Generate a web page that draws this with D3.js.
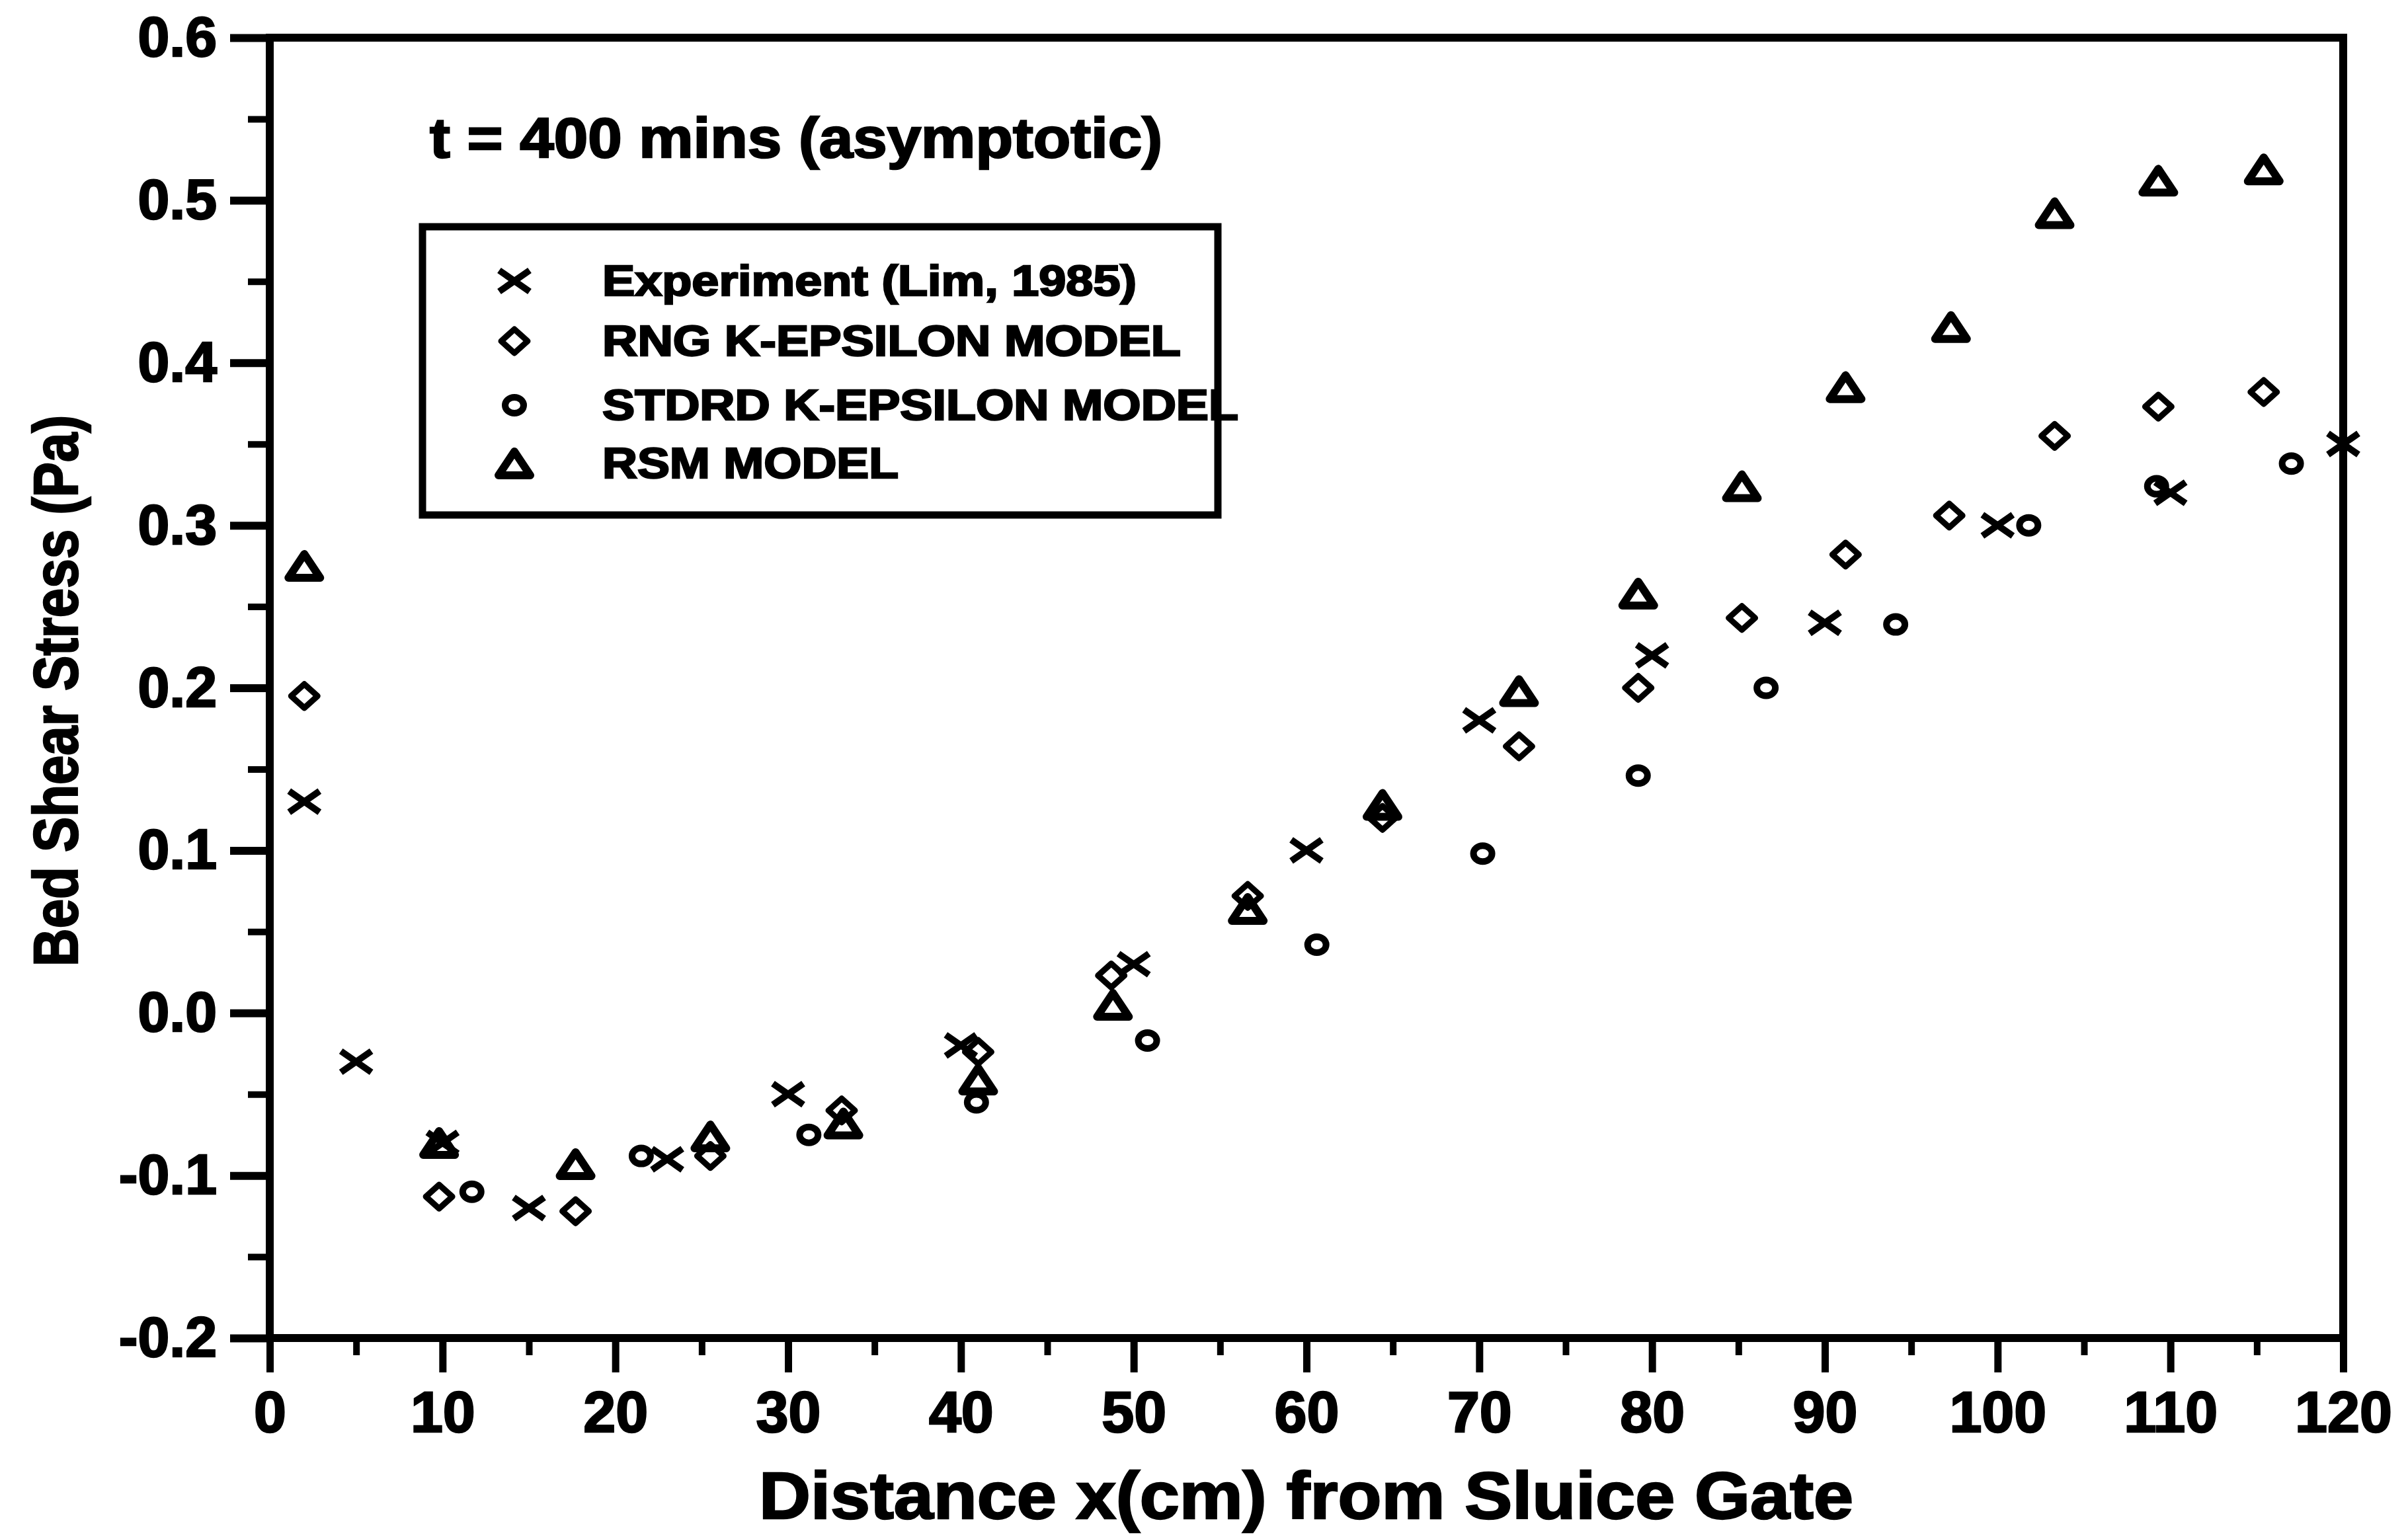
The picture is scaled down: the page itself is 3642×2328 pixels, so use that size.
<!DOCTYPE html>
<html>
<head>
<meta charset="utf-8">
<script src="https://cdn.jsdelivr.net/npm/d3@7"></script>
<style>
  html, body { margin: 0; padding: 0; background: #fff; }
  svg { display: block; }
  text { font-family: "Liberation Sans", Arial, Helvetica, sans-serif; font-weight: bold; fill: #000; stroke: #000; stroke-width: 2.5px; }
</style>
</head>
<body>
<script>
// ---------------- DATA ----------------
const xTickValues = [0, 10, 20, 30, 40, 50, 60, 70, 80, 90, 100, 110, 120];
const xTickLabels = ["0", "10", "20", "30", "40", "50", "60", "70", "80", "90", "100", "110", "120"];
const yTickValues = [-0.2, -0.1, 0.0, 0.1, 0.2, 0.3, 0.4, 0.5, 0.6];
const yTickLabels = ["-0.2", "-0.1", "0.0", "0.1", "0.2", "0.3", "0.4", "0.5", "0.6"];
const xMinorTicks = [5, 15, 25, 35, 45, 55, 65, 75, 85, 95, 105, 115];
const yMinorTicks = [-0.15, -0.05, 0.05, 0.15, 0.25, 0.35, 0.45, 0.55];

const expX = [2, 5, 10, 15, 23, 30, 40, 50, 60, 70, 80, 90, 100, 110, 120];
const expY = [0.13, -0.03, -0.08, -0.12, -0.09, -0.05, -0.02, 0.03, 0.10, 0.18, 0.22, 0.24, 0.30, 0.32, 0.35];

const rngX = [2, 9.8, 17.7, 25.5, 33.1, 41, 48.7, 56.6, 64.4, 72.3, 79.2, 85.2, 91.2, 97.2, 103.3, 109.3, 115.4];
const rngY = [0.195, -0.113, -0.122, -0.088, -0.06, -0.024, 0.023, 0.072, 0.12, 0.164, 0.2, 0.243, 0.282, 0.306, 0.355, 0.373, 0.382];

const stdX = [11.7, 21.5, 31.2, 40.9, 50.8, 60.6, 70.2, 79.2, 86.6, 94.1, 101.8, 109.2, 117];
const stdY = [-0.11, -0.088, -0.075, -0.055, -0.017, 0.042, 0.098, 0.146, 0.2, 0.239, 0.3, 0.324, 0.338];

const rsmX = [2, 9.8, 17.7, 25.5, 33.2, 41, 48.8, 56.6, 64.4, 72.3, 79.2, 85.2, 91.2, 97.3, 103.3, 109.3, 115.4];
const rsmY = [0.275, -0.08, -0.093, -0.076, -0.068, -0.041, 0.005, 0.064, 0.128, 0.198, 0.258, 0.324, 0.385, 0.422, 0.492, 0.512, 0.519];

const seriesNames = ["Experiment (Lim, 1985)", "RNG K-EPSILON MODEL", "STDRD K-EPSILON MODEL", "RSM MODEL"];
const seriesMarkers = ["x", "diamond", "circle", "triangle"];
const annotation = "t = 400 mins (asymptotic)";
const xTitle = "Distance x(cm) from Sluice Gate";
const yTitle = "Bed Shear Stress (Pa)";

// ---------------- LAYOUT ----------------
const W = 3642, H = 2328;
const plot = { left: 408, right: 3544, top: 57, bottom: 2024 };

const svg = d3.select("body").append("svg")
  .attr("width", W).attr("height", H)
  .attr("viewBox", `0 0 ${W} ${H}`);
svg.append("rect").attr("width", W).attr("height", H).attr("fill", "#fff");

const x = d3.scaleLinear().domain([0, 120]).range([plot.left, plot.right]);
const y = d3.scaleLinear().domain([-0.2, 0.6]).range([plot.bottom, plot.top]);

// axes: minor ticks
const yMinor = d3.axisLeft(y).tickValues(yMinorTicks).tickSize(33).tickFormat("");
const xMinor = d3.axisBottom(x).tickValues(xMinorTicks).tickSize(26).tickFormat("");
svg.append("g").attr("transform", `translate(${plot.left},0)`).call(yMinor)
  .call(g => g.select(".domain").remove())
  .call(g => g.selectAll("line").attr("stroke", "#000").attr("stroke-width", 10));
svg.append("g").attr("transform", `translate(0,${plot.bottom})`).call(xMinor)
  .call(g => g.select(".domain").remove())
  .call(g => g.selectAll("line").attr("stroke", "#000").attr("stroke-width", 10));

// major ticks + labels
const yAxis = d3.axisLeft(y).tickValues(yTickValues).tickSize(60).tickPadding(20)
  .tickFormat((d, i) => yTickLabels[i]);
const xAxis = d3.axisBottom(x).tickValues(xTickValues).tickSize(52).tickPadding(28)
  .tickFormat((d, i) => xTickLabels[i]);

svg.append("g").attr("transform", `translate(${plot.left},0)`).call(yAxis)
  .call(g => g.select(".domain").remove())
  .call(g => g.selectAll("line").attr("stroke", "#000").attr("stroke-width", 12))
  .call(g => g.selectAll("text").attr("font-size", 86).attr("font-family", null).attr("fill", "#000"));

svg.append("g").attr("transform", `translate(0,${plot.bottom})`).call(xAxis)
  .call(g => g.select(".domain").remove())
  .call(g => g.selectAll("line").attr("stroke", "#000").attr("stroke-width", 11))
  .call(g => g.selectAll("text").attr("font-size", 88).attr("font-family", null).attr("fill", "#000"));

// frame
svg.append("rect")
  .attr("x", plot.left).attr("y", plot.top)
  .attr("width", plot.right - plot.left).attr("height", plot.bottom - plot.top)
  .attr("fill", "none").attr("stroke", "#000").attr("stroke-width", 12);

// ---------------- MARKERS ----------------
function markerPath(type) {
  const p = d3.path();
  if (type === "x") {
    const hw = 23, hh = 16;
    p.moveTo(-hw, -hh); p.lineTo(hw, hh);
    p.moveTo(hw, -hh); p.lineTo(-hw, hh);
  } else if (type === "diamond") {
    const hw = 20, hh = 18;
    p.moveTo(0, -hh); p.lineTo(hw, 0); p.lineTo(0, hh); p.lineTo(-hw, 0); p.closePath();
  } else if (type === "triangle") {
    const hw = 24, hh = 18;
    p.moveTo(0, -hh); p.lineTo(hw, hh); p.lineTo(-hw, hh); p.closePath();
  }
  return p.toString();
}
function drawMarker(g, type) {
  if (type === "circle") {
    g.append("ellipse").attr("rx", 14).attr("ry", 12)
      .attr("fill", "none").attr("stroke", "#000").attr("stroke-width", 10);
  } else {
    g.append("path").attr("d", markerPath(type))
      .attr("fill", "none").attr("stroke", "#000")
      .attr("stroke-width", type === "triangle" ? 12 : (type === "x" ? 10 : 9))
      .attr("stroke-linejoin", "round").attr("stroke-linecap", "butt");
  }
}

const series = [
  { xs: expX, ys: expY, marker: seriesMarkers[0] },
  { xs: rngX, ys: rngY, marker: seriesMarkers[1] },
  { xs: stdX, ys: stdY, marker: seriesMarkers[2] },
  { xs: rsmX, ys: rsmY, marker: seriesMarkers[3] }
];

series.forEach(s => {
  const pts = s.xs.map((v, i) => [v, s.ys[i]]);
  svg.append("g").selectAll("g").data(pts).join("g")
    .attr("transform", d => `translate(${x(d[0])},${y(d[1])})`)
    .each(function () { drawMarker(d3.select(this), s.marker); });
});

// ---------------- ANNOTATION ----------------
svg.append("text").attr("x", 650).attr("y", 238)
  .attr("font-size", 86).attr("textLength", 1108).attr("lengthAdjust", "spacingAndGlyphs")
  .text(annotation);

// ---------------- LEGEND ----------------
const legend = svg.append("g");
legend.append("rect").attr("x", 639).attr("y", 343).attr("width", 1203).attr("height", 436)
  .attr("fill", "none").attr("stroke", "#000").attr("stroke-width", 11);
const legendRows = [425, 516, 613, 701];
const legendWidths = [808, 875, 962, 448];
seriesNames.forEach((name, i) => {
  const g = legend.append("g").attr("transform", `translate(778,${legendRows[i]})`);
  drawMarker(g, seriesMarkers[i]);
  legend.append("text").attr("x", 911).attr("y", legendRows[i] + 22)
    .attr("font-size", 64).attr("textLength", legendWidths[i]).attr("lengthAdjust", "spacingAndGlyphs")
    .text(name);
});

// ---------------- AXIS TITLES ----------------
svg.append("text").attr("x", 1148).attr("y", 2297)
  .attr("font-size", 100).attr("textLength", 1655).attr("lengthAdjust", "spacingAndGlyphs")
  .text(xTitle);

svg.append("text")
  .attr("transform", "translate(117,1462) rotate(-90)")
  .attr("x", 0).attr("y", 0)
  .attr("font-size", 94).attr("textLength", 834).attr("lengthAdjust", "spacingAndGlyphs")
  .text(yTitle);
</script>
</body>
</html>
